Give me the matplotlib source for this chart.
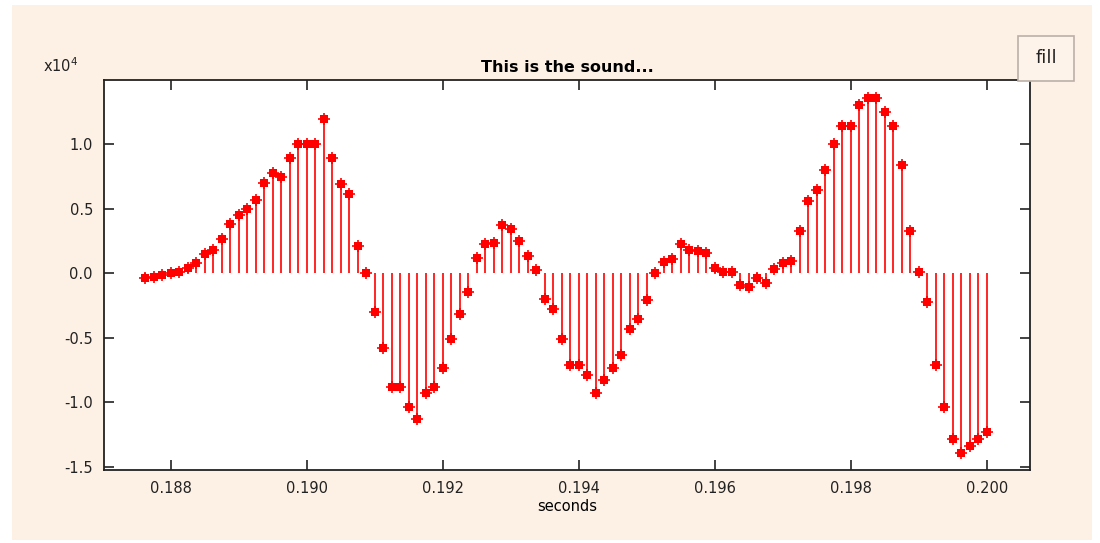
import numpy as np
import matplotlib
matplotlib.use("Agg")
import matplotlib.pyplot as plt
from matplotlib.patches import Rectangle

# sample indices at 8000 Hz
sample_rate = 8000
first_sample = 1501
# amplitudes in units of 1e4
amplitude = [
    -0.039, -0.026, -0.013, 0.0, 0.013, 0.039, 0.082, 0.147, 0.183, 0.266,
    0.382, 0.45, 0.50, 0.568, 0.698, 0.78, 0.749, 0.894, 1.002, 1.002,
    1.002, 1.196, 0.894, 0.695, 0.617, 0.212, 0.0, -0.302, -0.577, -0.881,
    -0.881, -1.039, -1.129, -0.932, -0.879, -0.736, -0.512, -0.316, -0.142, 0.119,
    0.225, 0.237, 0.374, 0.343, 0.253, 0.134, 0.028, -0.199, -0.277, -0.512,
    -0.710, -0.711, -0.788, -0.930, -0.829, -0.734, -0.631, -0.434, -0.354, -0.209,
    0.002, 0.085, 0.109, 0.225, 0.183, 0.171, 0.157, 0.038, 0.01, 0.01,
    -0.093, -0.109, -0.034, -0.078, 0.036, 0.082, 0.095, 0.330, 0.563, 0.646,
    0.801, 1.0, 1.144, 1.144, 1.302, 1.357, 1.357, 1.248, 1.144, 0.842,
    0.328, 0.013, -0.225, -0.711, -1.039, -1.287, -1.395, -1.339, -1.287, -1.233,
]
x_ticks = [0.188, 0.190, 0.192, 0.194, 0.196, 0.198, 0.200]
y_ticks = [-1.5, -1.0, -0.5, 0.0, 0.5, 1.0]

t = (first_sample + np.arange(len(amplitude))) / sample_rate

W, H = 1100, 543
fig = plt.figure(figsize=(W / 100, H / 100), dpi=100, facecolor="white")
peach = "#fdf0e4"
fig.patches.append(Rectangle((12 / W, 3 / H), (1092 - 12) / W, (538 - 3) / H,
                             transform=fig.transFigure, facecolor=peach,
                             edgecolor="none", zorder=-10))

ax = fig.add_axes([104 / W, 1 - 470 / H, (1030 - 104) / W, (470 - 80) / H])
ax.set_zorder(1)
ax.set_facecolor("white")

ml, sl, bl = ax.stem(t, amplitude, basefmt=" ")
plt.setp(sl, color="red", linewidth=1.2)
plt.setp(ml, color="red", marker="s", markersize=5.2, markeredgewidth=0)
ax.plot(t, amplitude, linestyle="none", marker="+", color="red",
        markersize=8, markeredgewidth=1.2)

ax.set_xlim(0.187019, 0.200637)
ax.set_ylim(-1.525, 1.498)
ax.set_xticks(x_ticks)
ax.set_xticklabels([f"{v:.3f}" for v in x_ticks])
ax.set_yticks(y_ticks)
ax.set_yticklabels([f"{v:.1f}" for v in y_ticks])
ax.tick_params(direction="in", length=7, width=1.2, top=True, right=True,
               labelsize=10.5, colors="#222222", pad=8)
for s in ax.spines.values():
    s.set_linewidth(1.3)
    s.set_color("#222222")

ax.set_title("This is the sound...", fontsize=11.5, fontweight="bold", pad=6)
ax.set_xlabel("seconds", fontsize=10.5, labelpad=2)

fig.text(43 / W, 1 - 66 / H, r"x10$^4$", fontsize=10.5, color="#222222",
         ha="left", va="center")

# "fill" button
fig.patches.append(Rectangle((1018 / W, 1 - 81 / H), 56 / W, 45 / H,
                             transform=fig.transFigure, facecolor="#fdf3ea",
                             edgecolor="#bbb0a8", linewidth=1.2, zorder=3))
fig.text(1046 / W, 1 - 58 / H, "fill", fontsize=13, ha="center", va="center",
         color="#222222", zorder=4)

fig.savefig("out.png", dpi=100, facecolor=fig.get_facecolor())
